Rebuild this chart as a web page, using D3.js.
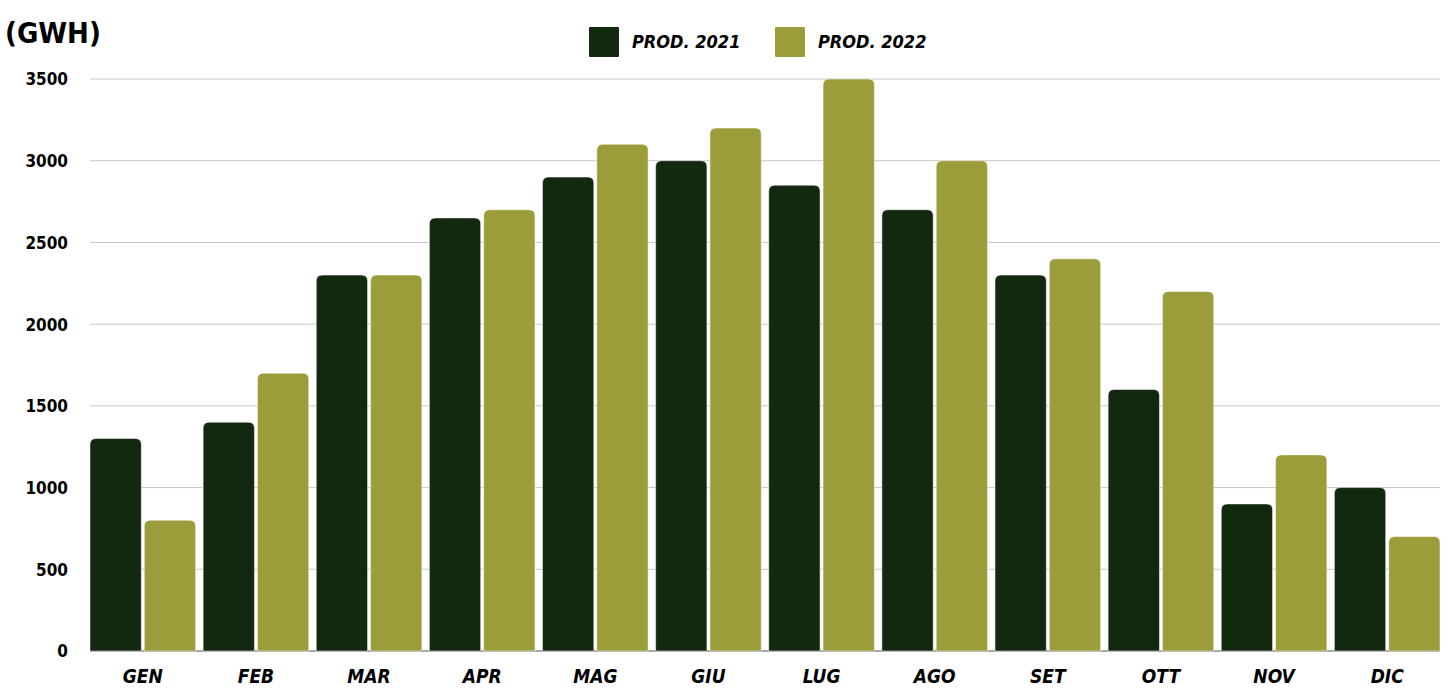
<!DOCTYPE html>
<html>
<head>
<meta charset="utf-8">
<script src="https://cdn.jsdelivr.net/npm/d3@7"></script>
<style>
  body { margin: 0; background: #fff; }
  svg text { font-family: "DejaVu Sans Condensed", "DejaVu Sans", sans-serif; font-stretch: condensed; font-weight: bold; fill: #000; }
</style>
</head>
<body>
<div id="chart"></div>
<script>
// data
var months = ["GEN","FEB","MAR","APR","MAG","GIU","LUG","AGO","SET","OTT","NOV","DIC"];
var seriesNames = ["PROD. 2021", "PROD. 2022"];
var prod2021 = [1300,1400,2300,2650,2900,3000,2850,2700,2300,1600,900,1000];
var prod2022 = [800,1700,2300,2700,3100,3200,3500,3000,2400,2200,1200,700];
var yTicks = [0,500,1000,1500,2000,2500,3000,3500];

var colors = ["#13290f", "#9b9d3b"];

var width = 1452, height = 689;
var margin = {top: 79, right: 12, bottom: 38, left: 90};
var groupGap = 7.5, barGap = 3;

var svg = d3.select("#chart").append("svg")
    .attr("width", width)
    .attr("height", height);

var plotW = width - margin.left - margin.right;
var plotH = height - margin.top - margin.bottom;

var g = svg.append("g")
    .attr("transform", "translate(" + margin.left + "," + margin.top + ")");

// x scale: each band holds the two bars and a gap on the right
var x0 = d3.scaleBand()
    .domain(months)
    .range([0, plotW + groupGap])
    .padding(0);
var barW = (x0.bandwidth() - groupGap - barGap) / 2;
var x1 = d3.scaleBand()
    .domain([0, 1])
    .range([0, barW * 2 + barGap])
    .paddingInner(barGap / (barW + barGap))
    .paddingOuter(0);

var y = d3.scaleLinear()
    .domain([0, 3500])
    .range([plotH, 0]);

// grid lines
g.append("g").selectAll("line")
  .data(yTicks.filter(function(d){ return d > 0; }))
  .enter().append("line")
    .attr("x1", 0)
    .attr("x2", plotW)
    .attr("y1", function(d){ return y(d); })
    .attr("y2", function(d){ return y(d); })
    .attr("stroke", "#c8c8c8")
    .attr("stroke-width", 1);

// baseline
g.append("line")
    .attr("x1", 0).attr("x2", plotW)
    .attr("y1", y(0)).attr("y2", y(0))
    .attr("stroke", "#a8a8a8")
    .attr("stroke-width", 2);

// y axis labels
var yAxis = g.append("g")
    .attr("transform", "translate(-22,0)")
    .call(d3.axisLeft(y).tickValues(yTicks).tickFormat(d3.format("d")).tickSize(0).tickPadding(0));
yAxis.select(".domain").remove();
yAxis.selectAll("text")
    .style("font-size", "17px")
    .attr("dy", "0.35em");

// rounded-top bar path
function barPath(x, yTop, w, h, r) {
  r = Math.min(r, h, w / 2);
  return "M" + x + "," + (yTop + h) +
         "V" + (yTop + r) +
         "Q" + x + "," + yTop + " " + (x + r) + "," + yTop +
         "H" + (x + w - r) +
         "Q" + (x + w) + "," + yTop + " " + (x + w) + "," + (yTop + r) +
         "V" + (yTop + h) + "Z";
}

var data = months.map(function(m, i) {
  return {month: m, values: [prod2021[i], prod2022[i]]};
});

var groups = g.selectAll(".grp")
  .data(data)
  .enter().append("g")
    .attr("class", "grp")
    .attr("transform", function(d){ return "translate(" + x0(d.month) + ",0)"; });

groups.selectAll("path")
  .data(function(d){ return d.values.map(function(v, k){ return {k: k, v: v}; }); })
  .enter().append("path")
    .attr("d", function(d){
      return barPath(x1(d.k), y(d.v), x1.bandwidth(), y(0) - y(d.v), 6);
    })
    .attr("fill", function(d){ return colors[d.k]; })
    .attr("stroke", "#fff")
    .attr("stroke-width", 0.5);

// month labels
g.append("g").selectAll("text")
  .data(months)
  .enter().append("text")
    .attr("x", function(d){ return x0(d) + (barW * 2 + barGap) / 2; })
    .attr("y", plotH + 25)
    .attr("dy", "0.35em")
    .attr("text-anchor", "middle")
    .style("font-size", "19px")
    .style("font-style", "italic")
    .text(function(d){ return d; });

// unit label
svg.append("text")
    .attr("x", 5)
    .attr("y", 33)
    .attr("dy", "0.35em")
    .style("font-size", "29px")
    .text("(GWH)");

// legend
var legendX = [589, 775];
var legend = svg.append("g").selectAll("g")
  .data(seriesNames)
  .enter().append("g")
    .attr("transform", function(d, i){ return "translate(" + legendX[i] + ",27)"; });
legend.append("rect")
    .attr("width", 30).attr("height", 30)
    .attr("rx", 1)
    .attr("fill", function(d, i){ return colors[i]; });
legend.append("text")
    .attr("x", 43)
    .attr("y", 15)
    .attr("dy", "0.35em")
    .style("font-size", "18px")
    .style("font-style", "italic")
    .text(function(d){ return d; });
</script>
</body>
</html>
